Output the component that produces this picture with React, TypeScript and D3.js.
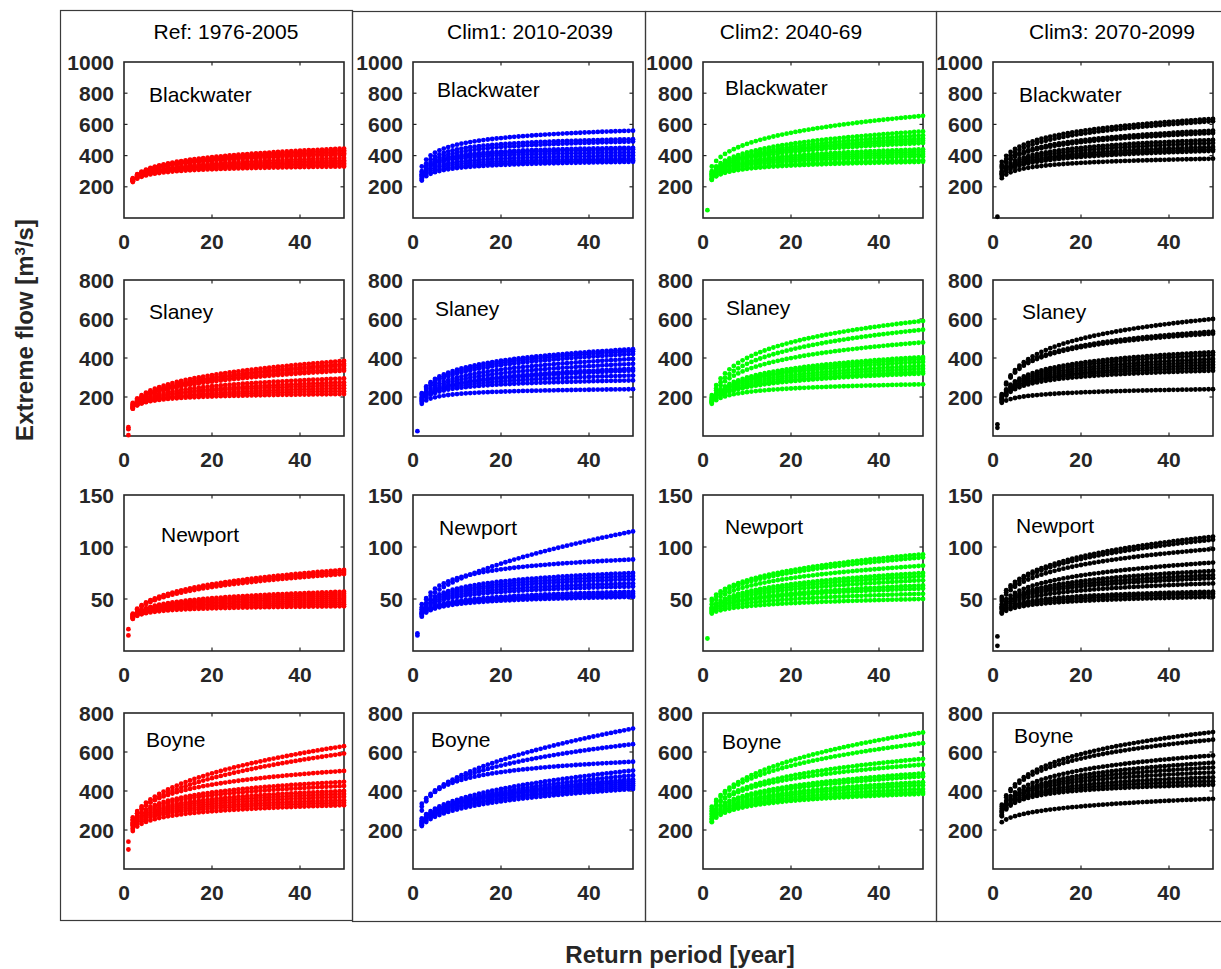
import React from "react";
import * as d3 from "d3";

// return periods (years) plotted for every ensemble member
const returnPeriods = [2, 3, 4, 5, 6, 7, 8, 9, 10, 11, 12, 13, 14, 15, 16, 17, 18, 19, 20, 21, 22, 23, 24, 25, 26,
  27, 28, 29, 30, 31, 32, 33, 34, 35, 36, 37, 38, 39, 40, 41, 42, 43, 44, 45, 46, 47, 48, 49, 50];

const columnTitles = ["Ref: 1976-2005", "Clim1: 2010-2039", "Clim2: 2040-69", "Clim3: 2070-2099"];
const stations = ["Blackwater", "Slaney", "Newport", "Boyne"];
const columnColors = ["#ff0000", "#0000ff", "#00ff00", "#000000"];
const yMax = [1000, 800, 150, 800];
const yTickValues = [[200, 400, 600, 800, 1000], [200, 400, 600, 800], [50, 100, 150], [200, 400, 600, 800]];
const xTickValues = [0, 20, 40];

// each member: extreme flow read at T = 2, 10 and 50 years
const refBlackwater = [[255, 350, 445], [250, 345, 435], [245, 340, 425], [250, 340, 415], [245, 335, 405],
  [245, 320, 385], [240, 315, 370], [240, 310, 360], [235, 305, 350], [235, 300, 340], [230, 295, 330]];
const clim1Blackwater = [[330, 470, 560], [300, 440, 505], [290, 420, 490], [280, 400, 450], [275, 390, 440],
  [270, 380, 420], [265, 360, 400], [255, 345, 380], [245, 330, 370], [240, 320, 360]];
const clim2Blackwater = [[330, 475, 655], [300, 420, 555], [290, 405, 530], [285, 395, 510], [280, 390, 495],
  [275, 380, 480], [270, 365, 440], [265, 355, 425], [255, 345, 410], [250, 335, 395], [245, 320, 370], [245, 315, 360]];
const clim3Blackwater = [[360, 500, 635], [340, 480, 620], [330, 450, 560], [320, 440, 545], [300, 410, 500],
  [290, 395, 480], [285, 380, 455], [280, 370, 440], [270, 360, 430], [255, 330, 380]];

const refSlaney = [[170, 265, 385], [165, 255, 370], [160, 250, 360], [160, 245, 345], [155, 240, 335],
  [150, 225, 295], [150, 215, 275], [145, 210, 260], [145, 200, 245], [140, 195, 230], [140, 190, 215]];
const clim1Slaney = [[220, 340, 445], [215, 330, 435], [210, 320, 420], [200, 300, 395], [195, 285, 370],
  [190, 270, 345], [185, 265, 335], [180, 255, 310], [175, 245, 285], [165, 215, 240]];
const clim2Slaney = [[210, 400, 590], [200, 370, 545], [195, 340, 480], [190, 300, 405], [185, 290, 395],
  [180, 285, 380], [180, 275, 360], [175, 265, 345], [175, 255, 330], [170, 250, 320], [165, 225, 265]];
const clim3Slaney = [[215, 420, 600], [210, 400, 535], [205, 395, 525], [200, 330, 430], [195, 320, 415],
  [190, 310, 395], [190, 300, 380], [185, 290, 365], [180, 285, 350], [175, 275, 335], [170, 210, 240]];

const refNewport = [[36, 55, 78], [35, 54, 76], [35, 53, 74], [34, 46, 57], [34, 45, 55], [33, 44, 53],
  [33, 43, 51], [32, 42, 49], [32, 41, 47], [31, 40, 45], [31, 39, 43]];
const clim1Newport = [[45, 68, 115], [42, 70, 88], [40, 60, 75], [40, 58, 72], [38, 56, 69], [37, 54, 65],
  [36, 52, 62], [36, 48, 57], [35, 47, 55], [34, 46, 53], [33, 45, 52]];
const clim2Newport = [[50, 68, 93], [48, 66, 90], [45, 62, 82], [42, 57, 75], [41, 55, 72], [40, 53, 68],
  [39, 50, 63], [38, 49, 60], [37, 46, 55], [36, 43, 50]];
const clim3Newport = [[52, 78, 110], [50, 76, 107], [48, 72, 98], [45, 64, 85], [43, 60, 77], [42, 58, 73],
  [41, 56, 70], [40, 53, 65], [38, 49, 57], [37, 47, 55], [36, 45, 52]];

const refBoyne = [[265, 408, 630], [255, 390, 592], [250, 380, 503], [240, 350, 447], [235, 340, 426],
  [230, 325, 400], [225, 315, 385], [220, 305, 370], [210, 295, 353], [205, 285, 340], [195, 270, 327]];
const clim1Boyne = [[335, 470, 720], [320, 460, 640], [300, 450, 550], [260, 355, 505], [250, 345, 480],
  [245, 340, 460], [240, 335, 450], [235, 330, 440], [230, 320, 430], [225, 315, 420], [220, 305, 410]];
const clim2Boyne = [[320, 470, 700], [310, 455, 645], [300, 420, 565], [295, 410, 535], [285, 380, 490],
  [280, 370, 475], [270, 355, 445], [260, 345, 430], [255, 335, 410], [245, 325, 395], [240, 320, 385]];
const clim3Boyne = [[330, 510, 702], [320, 495, 663], [310, 450, 582], [300, 430, 545], [295, 420, 520],
  [290, 410, 495], [280, 395, 470], [275, 385, 450], [270, 375, 432], [240, 295, 360]];

// lone points at T = 1 year [T, flow]
const refSlaneyT1 = [[1, 45], [1, 35], [1, 4]];
const refNewportT1 = [[1, 21], [1, 15]];
const refBoyneT1 = [[1, 140], [1, 100]];
const clim1SlaneyT1 = [[1, 25]];
const clim1NewportT1 = [[1, 17], [1, 15]];
const clim2BlackwaterT1 = [[1, 50]];
const clim2NewportT1 = [[1, 12]];
const clim3BlackwaterT1 = [[1, 8]];
const clim3SlaneyT1 = [[1, 60], [1, 42]];
const clim3NewportT1 = [[1, 14], [1, 5]];

const panelCurves = [
  [refBlackwater, clim1Blackwater, clim2Blackwater, clim3Blackwater],
  [refSlaney, clim1Slaney, clim2Slaney, clim3Slaney],
  [refNewport, clim1Newport, clim2Newport, clim3Newport],
  [refBoyne, clim1Boyne, clim2Boyne, clim3Boyne],
];
const panelT1 = [
  [[], [], clim2BlackwaterT1, clim3BlackwaterT1],
  [refSlaneyT1, clim1SlaneyT1, [], clim3SlaneyT1],
  [refNewportT1, clim1NewportT1, clim2NewportT1, clim3NewportT1],
  [refBoyneT1, [], [], []],
];

// layout
const colX = [124, 413, 703, 993];
const rowY = [62, 280, 495, 713];
const plotW = 220;
const plotH = 156;
const boxes = [[60, 10, 352, 920], [352, 11, 645, 921], [645, 11, 936, 921], [936, 11, 1226, 921]];
const titleX = [226, 530, 791, 1112];
const nameOffset = [
  [[25, 40], [24, 35], [22, 33], [26, 40]],
  [[25, 39], [22, 36], [23, 35], [29, 39]],
  [[37, 47], [26, 40], [22, 39], [23, 38]],
  [[22, 34], [18, 34], [19, 36], [21, 30]],
];
const font = "'Liberation Sans', Arial, Helvetica, sans-serif";
const axisColor = "#262626";

// GEV return level curve through the three readings
const reducedVariate = (T: number) => -Math.log(1 - 1 / T);
function returnLevel(member: number[]) {
  const [q2, q10, q50] = member;
  const y2 = reducedVariate(2), y10 = reducedVariate(10), y50 = reducedVariate(50);
  const r = (q50 - q10) / (q10 - q2);
  const g = (k: number) => {
    const kk = Math.abs(k) < 1e-9 ? 1e-9 : k;
    return (Math.pow(y50, -kk) - Math.pow(y10, -kk)) / (Math.pow(y10, -kk) - Math.pow(y2, -kk));
  };
  let lo = -1.9, hi = 2.3;
  for (let i = 0; i < 60; i++) {
    const m = (lo + hi) / 2;
    if (g(m) < r) lo = m; else hi = m;
  }
  let k = (lo + hi) / 2;
  if (Math.abs(k) < 1e-6) k = 1e-6;
  const a = (q10 - q2) / (Math.pow(y10, -k) - Math.pow(y2, -k));
  return (T: number) => q2 + a * (Math.pow(reducedVariate(T), -k) - Math.pow(y2, -k));
}

const Panel = ({ row, col }: { row: number; col: number }) => {
  const x = d3.scaleLinear().domain([0, 50]).range([0, plotW]);
  const y = d3.scaleLinear().domain([0, yMax[row]]).range([plotH, 0]);
  const color = columnColors[col];
  const dots: number[][] = [];
  panelCurves[row][col].forEach((m) => {
    const f = returnLevel(m);
    returnPeriods.forEach((T) => dots.push([T, f(T)]));
  });
  panelT1[row][col].forEach((p) => dots.push(p));
  const [ndx, ndy] = nameOffset[row][col];
  const tl = 3.5;
  return (
    <g transform={`translate(${colX[col]},${rowY[row]})`}>
      <rect x={0} y={0} width={plotW} height={plotH} fill="white" stroke={axisColor} strokeWidth={1.6} />
      {xTickValues.map((t) => (
        <g key={"x" + t}>
          {t > 0 && <line x1={x(t)} x2={x(t)} y1={plotH} y2={plotH - tl} stroke={axisColor} strokeWidth={1.2} />}
          {t > 0 && <line x1={x(t)} x2={x(t)} y1={0} y2={tl} stroke={axisColor} strokeWidth={1.2} />}
          <text x={x(t)} y={plotH + 31} textAnchor="middle" fontFamily={font} fontWeight="bold" fontSize={21} fill={axisColor}>{t}</text>
        </g>
      ))}
      {yTickValues[row].map((t) => (
        <g key={"y" + t}>
          {t < yMax[row] && <line x1={0} x2={tl} y1={y(t)} y2={y(t)} stroke={axisColor} strokeWidth={1.2} />}
          {t < yMax[row] && <line x1={plotW} x2={plotW - tl} y1={y(t)} y2={y(t)} stroke={axisColor} strokeWidth={1.2} />}
          <text x={-10} y={y(t)} dy="0.36em" textAnchor="end" fontFamily={font} fontWeight="bold" fontSize={21} fill={axisColor}>{t}</text>
        </g>
      ))}
      <text x={ndx} y={ndy} fontFamily={font} fontSize={21} fill="#000">{stations[row]}</text>
      {dots.map((d, i) => (
        <circle key={i} cx={x(d[0])} cy={y(d[1])} r={2.4} fill={color} />
      ))}
    </g>
  );
};

export default function App() {
  return (
    <svg width={1221} height={969} style={{ position: "absolute", left: 0, top: 0, background: "white" }}>
      <rect x={0} y={0} width={1221} height={969} fill="white" />
      {boxes.map((b, i) => (
        <rect key={i} x={b[0] + 0.5} y={b[1] + 0.5} width={b[2] - b[0]} height={b[3] - b[1]} fill="none" stroke="#3a3a3a" strokeWidth={1.2} />
      ))}
      {columnTitles.map((t, i) => (
        <text key={t} x={titleX[i]} y={39} textAnchor="middle" fontFamily={font} fontSize={21} fill="#000">{t}</text>
      ))}
      {stations.map((s, r) => [0, 1, 2, 3].map((c) => <Panel key={s + c} row={r} col={c} />))}
      <text transform="translate(33,330) rotate(-90)" textAnchor="middle" fontFamily={font} fontWeight="bold" fontSize={24} fill={axisColor}>
        Extreme flow [m<tspan baselineShift="super" fontSize={15}>3</tspan>/s]
      </text>
      <text x={680} y={963} textAnchor="middle" fontFamily={font} fontWeight="bold" fontSize={24} fill={axisColor}>Return period [year]</text>
    </svg>
  );
}
